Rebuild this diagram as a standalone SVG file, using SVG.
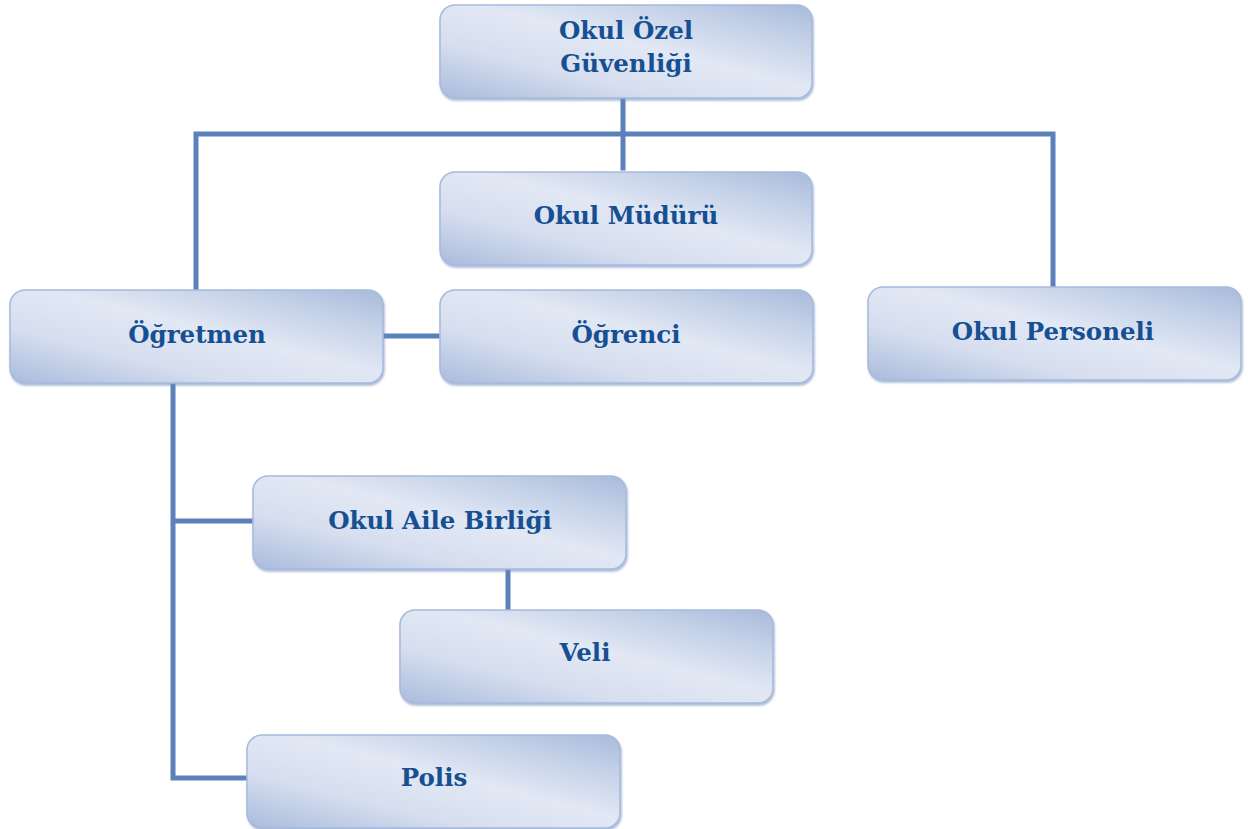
<svg xmlns="http://www.w3.org/2000/svg" width="1248" height="829" viewBox="0 0 1248 829">
<defs>
<linearGradient id="g" x1="0" y1="1" x2="1" y2="0">
<stop offset="0" stop-color="#a9bbdc"/>
<stop offset="0.3" stop-color="#d6deef"/>
<stop offset="0.55" stop-color="#e2e8f4"/>
<stop offset="0.8" stop-color="#c3d0e7"/>
<stop offset="1" stop-color="#a8badb"/>
</linearGradient>
<filter id="sh" x="-5%" y="-10%" width="110%" height="125%">
<feDropShadow dx="1" dy="2" stdDeviation="1.2" flood-color="#6f8cc0" flood-opacity="0.6"/>
</filter>
</defs>
<style>
.box{fill:url(#g);stroke:#a7bbdd;stroke-width:1.5;filter:url(#sh)}
.t{font-family:"DejaVu Serif","Liberation Serif",serif;font-weight:bold;font-size:24.5px;fill:#164f92;text-anchor:middle;dominant-baseline:central}
.c{stroke:#5b80ba;stroke-width:5;fill:none;stroke-linejoin:miter;stroke-linecap:square}
</style>
<rect width="1248" height="829" fill="#ffffff"/>
<g id="connectors">
<path class="c" d="M623,99 V168"/>
<path class="c" d="M196,290 V134 H1053 V287"/>
<path class="c" d="M383,336 H440"/>
<path class="c" d="M253,521 H173 M173,384 V778 H247"/>
<path class="c" d="M508,570 V610"/>
</g>
<g id="n-guvenlik"><rect class="box" x="440" y="5" width="372" height="93" rx="15"/><text class="t" x="626" y="30">Okul Özel</text><text class="t" x="626" y="63">Güvenliği</text></g>
<g id="n-mudur"><rect class="box" x="440" y="172" width="372" height="93" rx="15"/><text class="t" x="626" y="215">Okul Müdürü</text></g>
<g id="n-ogretmen"><rect class="box" x="10" y="290" width="373" height="93" rx="15"/><text class="t" x="197" y="334">Öğretmen</text></g>
<g id="n-ogrenci"><rect class="box" x="440" y="290" width="373" height="93" rx="15"/><text class="t" x="626" y="334">Öğrenci</text></g>
<g id="n-personel"><rect class="box" x="868" y="287" width="373" height="93" rx="15"/><text class="t" x="1053" y="331">Okul Personeli</text></g>
<g id="n-aile"><rect class="box" x="253" y="476" width="373" height="93" rx="15"/><text class="t" x="440" y="520">Okul Aile Birliği</text></g>
<g id="n-veli"><rect class="box" x="400" y="610" width="373" height="93" rx="15"/><text class="t" x="585" y="652">Veli</text></g>
<g id="n-polis"><rect class="box" x="247" y="735" width="373" height="93" rx="15"/><text class="t" x="434" y="777">Polis</text></g>
</svg>
